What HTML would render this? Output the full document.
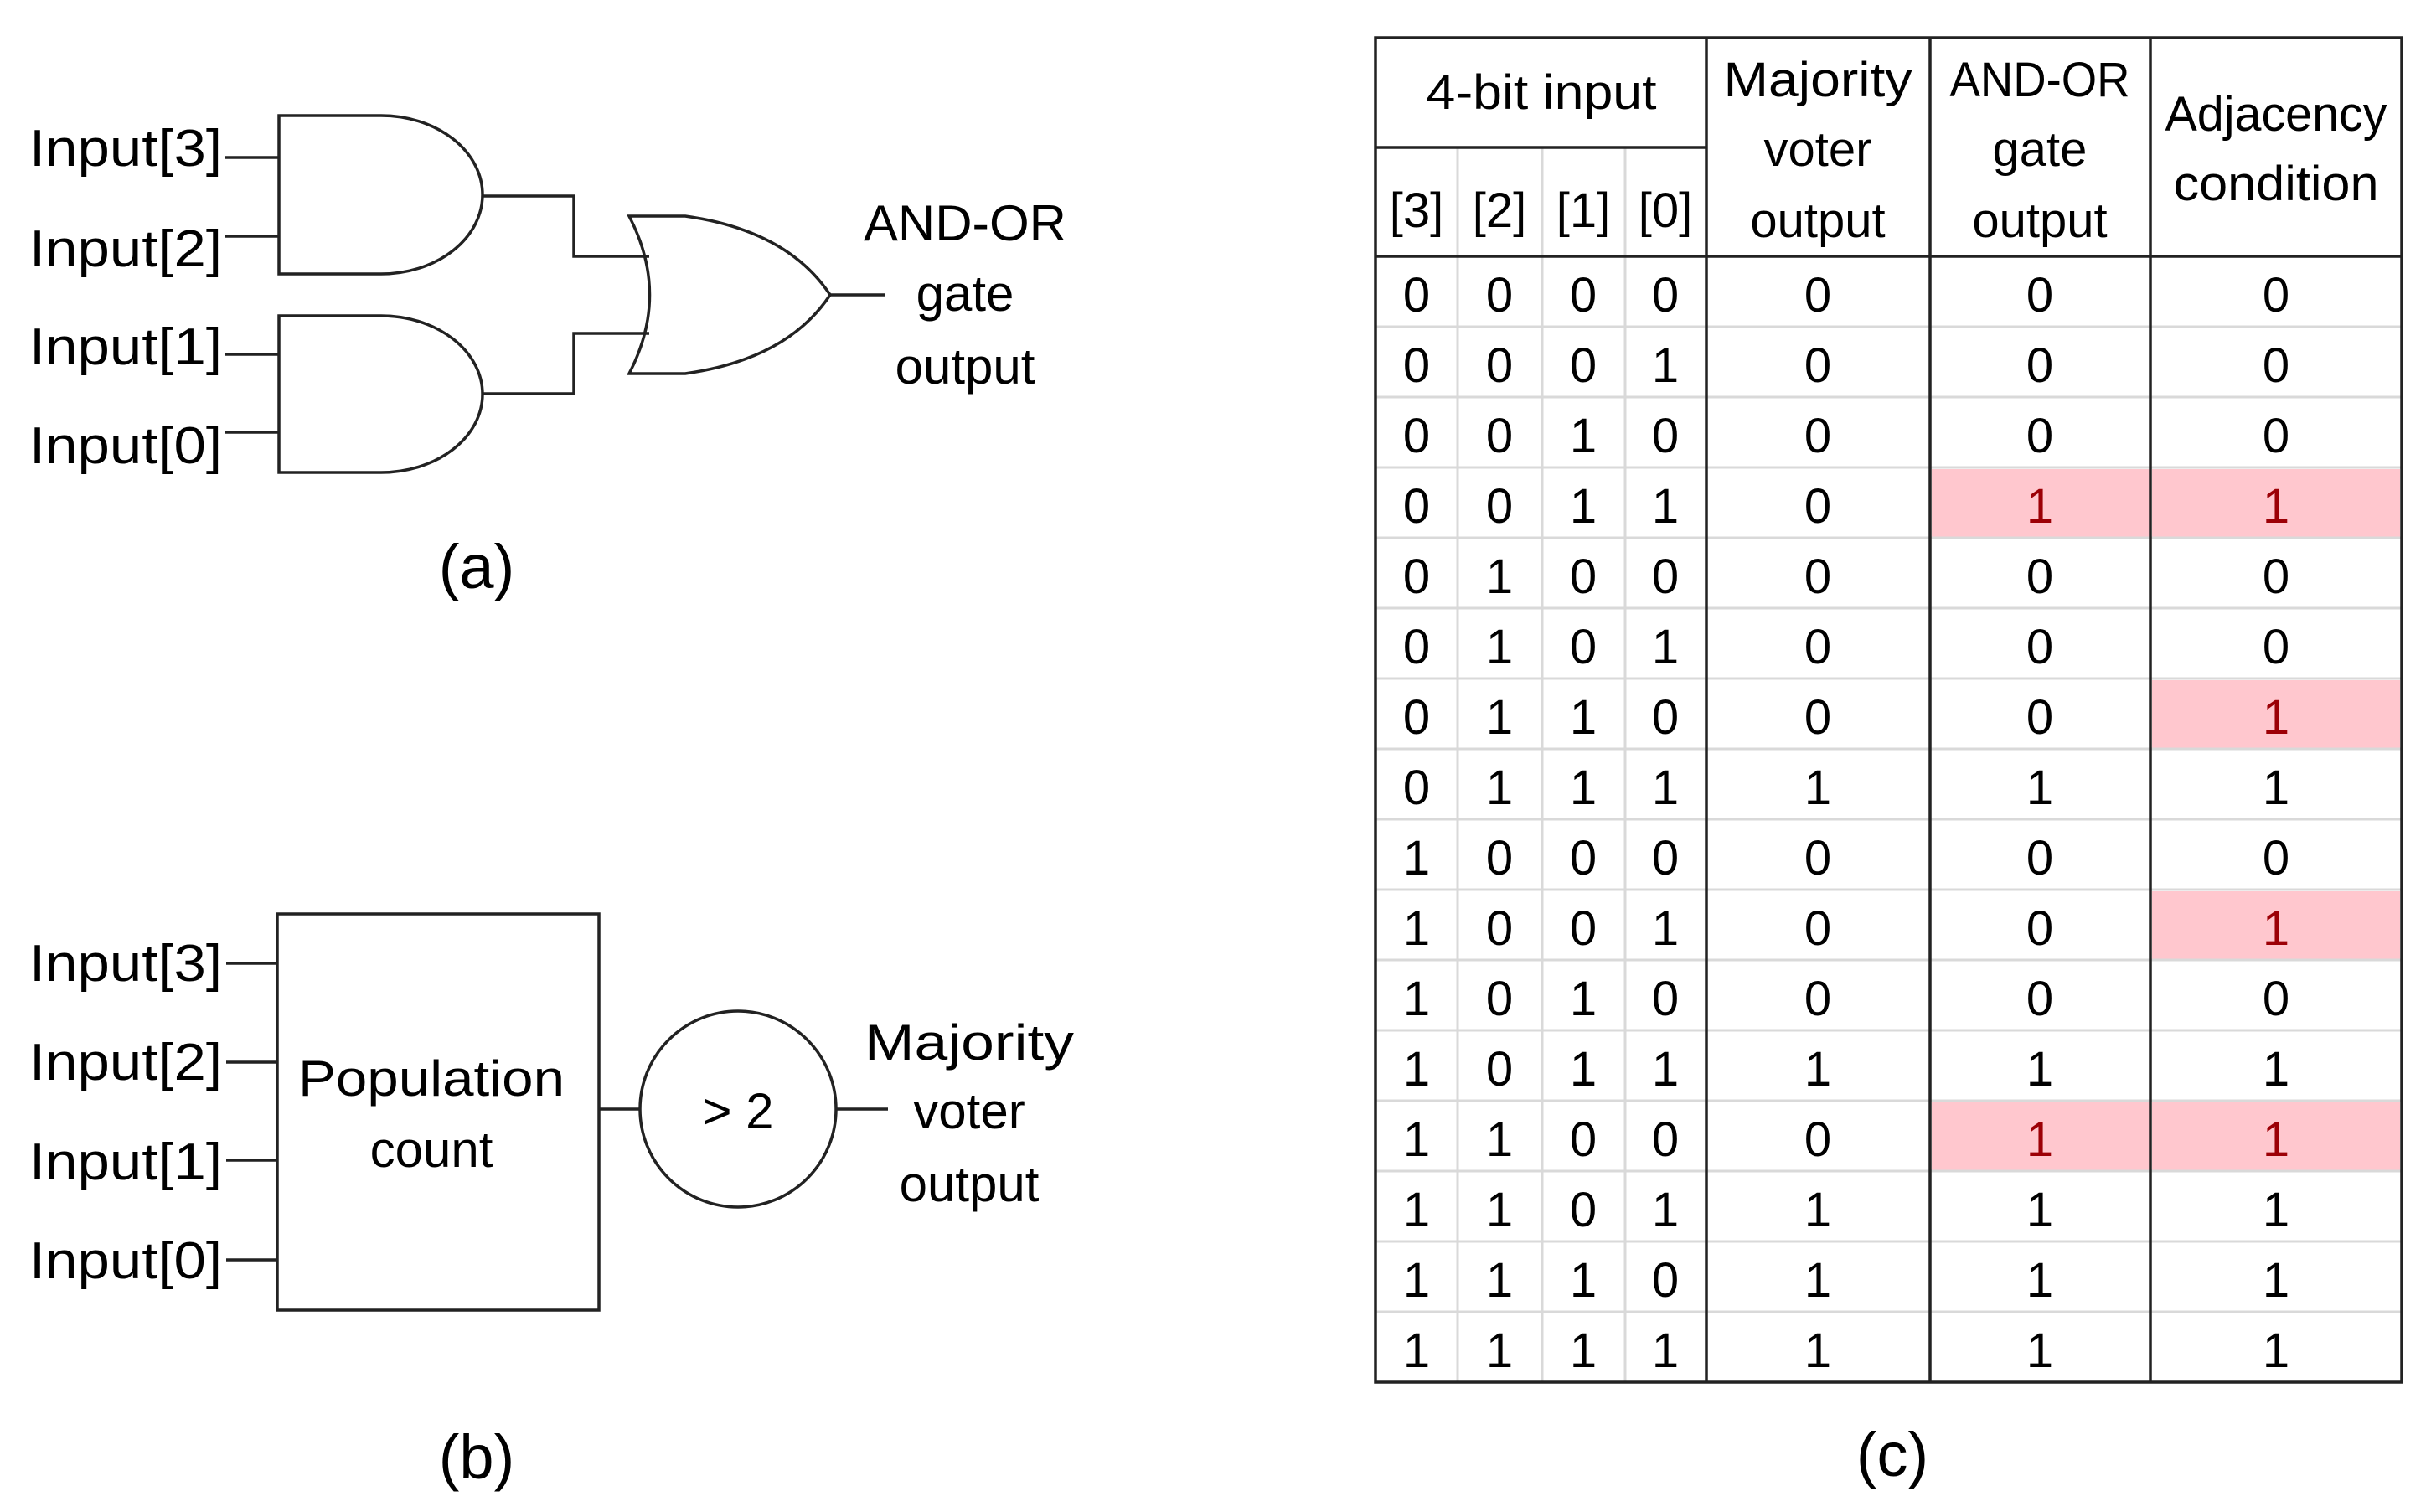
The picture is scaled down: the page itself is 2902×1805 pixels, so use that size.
<!DOCTYPE html>
<html><head><meta charset="utf-8"><style>html,body{margin:0;padding:0;background:#fff}svg{display:block}</style></head>
<body>
<svg width="2902" height="1805" viewBox="0 0 2902 1805" xmlns="http://www.w3.org/2000/svg" font-family="Liberation Sans, sans-serif" fill="#000">
<g stroke="#222" stroke-width="3.5" fill="none">
<!-- (a) -->
<path d="M333 138 H455 A121 94.5 0 0 1 455 327 H333 Z"/>
<path d="M333 377 H455 A121 93.5 0 0 1 455 564 H333 Z"/>
<line x1="268" y1="188" x2="333" y2="188"/><line x1="268" y1="282" x2="333" y2="282"/>
<line x1="268" y1="423" x2="333" y2="423"/><line x1="268" y1="516" x2="333" y2="516"/>
<path d="M576 234 H685 V306 H775"/><path d="M576 470 H685 V398 H775"/>
<path d="M751 258 H818 Q940 275 991 352 Q940 429 818 446 H751 Q800 352 751 258 Z"/>
<line x1="991" y1="352" x2="1057" y2="352"/>
<!-- (b) -->
<rect x="331" y="1091" width="384" height="473"/>
<line x1="270" y1="1150" x2="331" y2="1150"/><line x1="270" y1="1268" x2="331" y2="1268"/>
<line x1="270" y1="1385" x2="331" y2="1385"/><line x1="270" y1="1504" x2="331" y2="1504"/>
<line x1="715" y1="1324" x2="764" y2="1324"/>
<circle cx="881" cy="1324" r="117"/>
<line x1="998" y1="1324" x2="1060" y2="1324"/>
</g>
<g font-size="62">
<text x="35" y="198" textLength="230" lengthAdjust="spacingAndGlyphs">Input[3]</text>
<text x="35" y="318" textLength="230" lengthAdjust="spacingAndGlyphs">Input[2]</text>
<text x="35" y="435" textLength="230" lengthAdjust="spacingAndGlyphs">Input[1]</text>
<text x="35" y="553" textLength="230" lengthAdjust="spacingAndGlyphs">Input[0]</text>
<text x="35" y="1171" textLength="230" lengthAdjust="spacingAndGlyphs">Input[3]</text>
<text x="35" y="1289" textLength="230" lengthAdjust="spacingAndGlyphs">Input[2]</text>
<text x="35" y="1408" textLength="230" lengthAdjust="spacingAndGlyphs">Input[1]</text>
<text x="35" y="1526" textLength="230" lengthAdjust="spacingAndGlyphs">Input[0]</text>
</g>
<g font-size="60" text-anchor="middle">
<text x="1152" y="287" textLength="242" lengthAdjust="spacingAndGlyphs">AND-OR</text><text x="1152" y="371">gate</text><text x="1152" y="458">output</text>
<text x="515" y="1308" textLength="318" lengthAdjust="spacingAndGlyphs">Population</text><text x="515" y="1393">count</text>
<text x="881" y="1347">&gt; 2</text>
<text x="1157" y="1265" textLength="250" lengthAdjust="spacingAndGlyphs">Majority</text><text x="1157" y="1347">voter</text><text x="1157" y="1434">output</text>
</g>
<g font-size="74" text-anchor="middle">
<text x="569" y="702">(a)</text>
<text x="569" y="1765">(b)</text>
<text x="2259" y="1762">(c)</text>
</g>
<!-- table highlights -->
<g fill="#ffc7ce">
<rect x="2306" y="560" width="260" height="81"/><rect x="2569" y="560" width="296" height="81"/>
<rect x="2569" y="812" width="296" height="81"/>
<rect x="2569" y="1064" width="296" height="81"/>
<rect x="2306" y="1316" width="260" height="81"/><rect x="2569" y="1316" width="296" height="81"/>
</g>
<!-- light grid -->
<g stroke="#d9d9d9" stroke-width="3">
<line x1="1740" y1="177" x2="1740" y2="1650"/><line x1="1841" y1="177" x2="1841" y2="1650"/><line x1="1940" y1="177" x2="1940" y2="1650"/>
<line x1="1642" y1="390" x2="2867" y2="390"/><line x1="1642" y1="474" x2="2867" y2="474"/><line x1="1642" y1="558" x2="2867" y2="558"/>
<line x1="1642" y1="642" x2="2867" y2="642"/><line x1="1642" y1="726" x2="2867" y2="726"/><line x1="1642" y1="810" x2="2867" y2="810"/>
<line x1="1642" y1="894" x2="2867" y2="894"/><line x1="1642" y1="978" x2="2867" y2="978"/><line x1="1642" y1="1062" x2="2867" y2="1062"/>
<line x1="1642" y1="1146" x2="2867" y2="1146"/><line x1="1642" y1="1230" x2="2867" y2="1230"/><line x1="1642" y1="1314" x2="2867" y2="1314"/>
<line x1="1642" y1="1398" x2="2867" y2="1398"/><line x1="1642" y1="1482" x2="2867" y2="1482"/><line x1="1642" y1="1566" x2="2867" y2="1566"/>
</g>
<g stroke="#222" stroke-width="3.5" fill="none">
<rect x="1642" y="45" width="1225" height="1605"/>
<line x1="1642" y1="306" x2="2867" y2="306"/>
<line x1="1642" y1="176" x2="2037" y2="176"/>
<line x1="2037" y1="45" x2="2037" y2="1650"/><line x1="2304" y1="45" x2="2304" y2="1650"/><line x1="2567" y1="45" x2="2567" y2="1650"/>
</g>
<g font-size="58" text-anchor="middle">
<text x="1840" y="130" textLength="275" lengthAdjust="spacingAndGlyphs">4-bit input</text>
<text x="1691" y="271">[3]</text><text x="1790" y="271">[2]</text><text x="1890" y="271">[1]</text><text x="1988" y="271">[0]</text>
<text x="2170" y="115" textLength="225" lengthAdjust="spacingAndGlyphs">Majority</text><text x="2170" y="198">voter</text><text x="2170" y="283">output</text>
<text x="2435" y="115" textLength="215" lengthAdjust="spacingAndGlyphs">AND-OR</text><text x="2435" y="198">gate</text><text x="2435" y="283">output</text>
<text x="2717" y="156" textLength="265" lengthAdjust="spacingAndGlyphs">Adjacency</text><text x="2717" y="239" textLength="245" lengthAdjust="spacingAndGlyphs">condition</text>
</g>
<g font-size="58" text-anchor="middle">
<g transform="translate(0,372)"><text x="1691">0</text><text x="1790">0</text><text x="1890">0</text><text x="1988">0</text><text x="2170">0</text><text x="2435">0</text><text x="2717">0</text></g>
<g transform="translate(0,456)"><text x="1691">0</text><text x="1790">0</text><text x="1890">0</text><text x="1988">1</text><text x="2170">0</text><text x="2435">0</text><text x="2717">0</text></g>
<g transform="translate(0,540)"><text x="1691">0</text><text x="1790">0</text><text x="1890">1</text><text x="1988">0</text><text x="2170">0</text><text x="2435">0</text><text x="2717">0</text></g>
<g transform="translate(0,624)"><text x="1691">0</text><text x="1790">0</text><text x="1890">1</text><text x="1988">1</text><text x="2170">0</text><text x="2435" fill="#9c0006">1</text><text x="2717" fill="#9c0006">1</text></g>
<g transform="translate(0,708)"><text x="1691">0</text><text x="1790">1</text><text x="1890">0</text><text x="1988">0</text><text x="2170">0</text><text x="2435">0</text><text x="2717">0</text></g>
<g transform="translate(0,792)"><text x="1691">0</text><text x="1790">1</text><text x="1890">0</text><text x="1988">1</text><text x="2170">0</text><text x="2435">0</text><text x="2717">0</text></g>
<g transform="translate(0,876)"><text x="1691">0</text><text x="1790">1</text><text x="1890">1</text><text x="1988">0</text><text x="2170">0</text><text x="2435">0</text><text x="2717" fill="#9c0006">1</text></g>
<g transform="translate(0,960)"><text x="1691">0</text><text x="1790">1</text><text x="1890">1</text><text x="1988">1</text><text x="2170">1</text><text x="2435">1</text><text x="2717">1</text></g>
<g transform="translate(0,1044)"><text x="1691">1</text><text x="1790">0</text><text x="1890">0</text><text x="1988">0</text><text x="2170">0</text><text x="2435">0</text><text x="2717">0</text></g>
<g transform="translate(0,1128)"><text x="1691">1</text><text x="1790">0</text><text x="1890">0</text><text x="1988">1</text><text x="2170">0</text><text x="2435">0</text><text x="2717" fill="#9c0006">1</text></g>
<g transform="translate(0,1212)"><text x="1691">1</text><text x="1790">0</text><text x="1890">1</text><text x="1988">0</text><text x="2170">0</text><text x="2435">0</text><text x="2717">0</text></g>
<g transform="translate(0,1296)"><text x="1691">1</text><text x="1790">0</text><text x="1890">1</text><text x="1988">1</text><text x="2170">1</text><text x="2435">1</text><text x="2717">1</text></g>
<g transform="translate(0,1380)"><text x="1691">1</text><text x="1790">1</text><text x="1890">0</text><text x="1988">0</text><text x="2170">0</text><text x="2435" fill="#9c0006">1</text><text x="2717" fill="#9c0006">1</text></g>
<g transform="translate(0,1464)"><text x="1691">1</text><text x="1790">1</text><text x="1890">0</text><text x="1988">1</text><text x="2170">1</text><text x="2435">1</text><text x="2717">1</text></g>
<g transform="translate(0,1548)"><text x="1691">1</text><text x="1790">1</text><text x="1890">1</text><text x="1988">0</text><text x="2170">1</text><text x="2435">1</text><text x="2717">1</text></g>
<g transform="translate(0,1632)"><text x="1691">1</text><text x="1790">1</text><text x="1890">1</text><text x="1988">1</text><text x="2170">1</text><text x="2435">1</text><text x="2717">1</text></g>
</g>
</svg>
</body></html>
